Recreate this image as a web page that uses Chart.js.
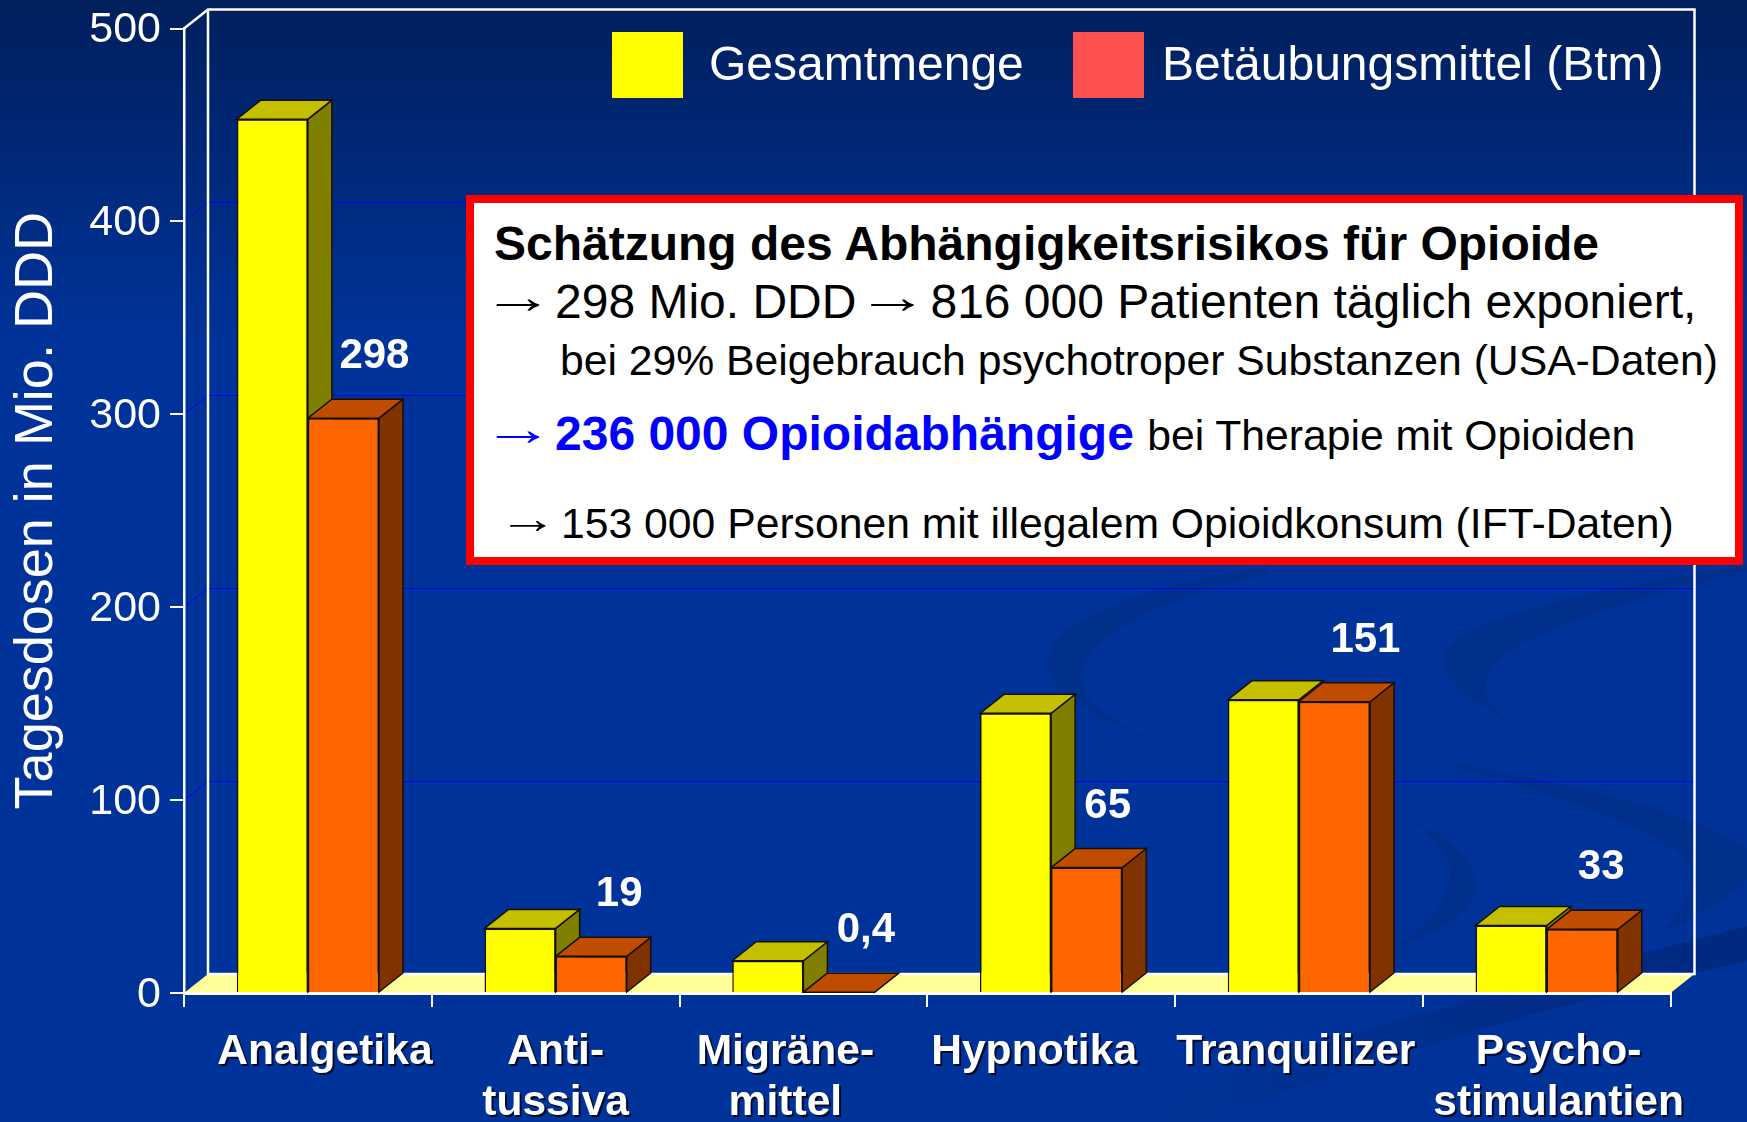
<!DOCTYPE html>
<html>
<head>
<meta charset="utf-8">
<script src="https://cdn.jsdelivr.net/npm/chart.js@4"></script>
<style>
    html, body { margin: 0; padding: 0; background: #003399; overflow: hidden; }
    body { width: 1747px; height: 1122px; position: relative; font-family: "Liberation Sans", Arial, sans-serif; }
    #myChart { position: absolute; left: 0; top: 0; }
    .legend_box { position: absolute; top: 32px; width: 71px; height: 66px; }
    .legend_text { position: absolute; top: 36px; font-size: 48px; line-height: 56px; color: #FFFFFF; white-space: nowrap; }
    #note { position: absolute; left: 466px; top: 195px; width: 1261px; height: 354px; background: #FFFFFF; border: 8px solid #FF0000; }
    #note div { position: absolute; white-space: nowrap; color: #000000; }
    #note b.blue { color: #0000FF; }
    .arrow { display: inline-block; position: relative; top: -5px; font-weight: normal; line-height: 0; text-align: left; transform-origin: left center; transform: translateX(-12px) scaleX(1.5); }
    .arrow.mid { text-align: center; transform-origin: center; transform: scaleX(1.5); }
</style>
</head>
<body>
<canvas id="myChart" width="1747" height="1122"></canvas>
<div id="legend"></div>
<div id="note">
    <div style="left:20px; top:14px; font-size:48px; line-height:54px;"><b>Schätzung des Abhängigkeitsrisikos für Opioide</b></div>
    <div style="left:20px; top:72px; font-size:48px; line-height:54px;"><span class="arrow" style="width:61px;">→</span>298 Mio. DDD<span class="arrow mid" style="width:51px; margin:0 12px 0 11px;">→</span>816 000 Patienten täglich exponiert,</div>
    <div style="left:86px; top:132px; font-size:42.7px; line-height:50px;">bei 29% Beigebrauch psychotroper Substanzen (USA-Daten)</div>
    <div style="left:20px; top:204px; font-size:48px; line-height:54px;"><b class="blue"><span class="arrow" style="width:61px;">→</span>236 000 Opioidabhängige</b> <span style="font-size:42.7px;">bei Therapie mit Opioiden</span></div>
    <div style="left:32px; top:295px; font-size:42.7px; line-height:50px;"><span class="arrow" style="width:55px; transform:translateX(-8px) scaleX(1.4);">→</span>153 000 Personen mit illegalem Opioidkonsum (IFT-Daten)</div>
</div>

<script>
// Data
var categories = ["Analgetika", ["Anti-", "tussiva"], ["Migräne-", "mittel"], "Hypnotika", "Tranquilizer", ["Psycho-", "stimulantien"]];
var gesamtmenge = [453, 33.5, 16.7, 145, 152, 35];
var betaeubungsmittel = [298, 19, 0.4, 65, 151, 33];
var yTicks = [0, 100, 200, 300, 400, 500];

var seriesNames = ["Gesamtmenge", "Betäubungsmittel (Btm)"];
var legendColors = ["#FFFF00", "#FF5050"];
var legendLeft = [612, 1073];
var frontColors = ["#FFFF00", "#FF6600"];
var topColors = ["#C4C000", "#BF4C00"];
var sideColors = ["#808000", "#803300"];

// the hand placed labels of the slide do not sit quite on the category centre
var categoryShift = [17, 0, -18, -17, -3, 12];
var valueLabelShift = [31, 28, 27, 21, 31, 19];

var DEPTH_X = 24;
var DEPTH_Y = 19;
var FONT = '"Liberation Sans", Arial, sans-serif';

// Legend
seriesNames.forEach(function(name, i) {
    var box = document.createElement("div");
    box.className = "legend_box";
    box.style.left = legendLeft[i] + "px";
    box.style.background = legendColors[i];
    var text = document.createElement("div");
    text.className = "legend_text";
    text.style.left = (legendLeft[i] + (i == 0 ? 97 : 89)) + "px";
    text.textContent = name;
    document.getElementById("legend").appendChild(box);
    document.getElementById("legend").appendChild(text);
});

function polygon(ctx, pts, fill, stroke) {
    ctx.beginPath();
    ctx.moveTo(pts[0][0], pts[0][1]);
    for (var i = 1; i < pts.length; i++) ctx.lineTo(pts[i][0], pts[i][1]);
    ctx.closePath();
    ctx.fillStyle = fill;
    ctx.fill();
    if (stroke) {
        ctx.strokeStyle = stroke;
        ctx.lineWidth = 1.5;
        ctx.stroke();
    }
}

// Slide background with the darker swirls
function drawBackground(chart) {
    var ctx = chart.ctx;
    var grad = ctx.createLinearGradient(0, 0, 0, 340);
    grad.addColorStop(0, "#001F5C");
    grad.addColorStop(1, "#003399");
    ctx.fillStyle = grad;
    ctx.fillRect(0, 0, chart.width, chart.height);

    ctx.fillStyle = "#002F8C";
    ctx.beginPath();
    ctx.moveTo(1267, 567);
    ctx.bezierCurveTo(1150, 585, 1045, 620, 1048, 664);
    ctx.bezierCurveTo(1052, 710, 1150, 740, 1224, 764);
    ctx.bezierCurveTo(1160, 745, 1082, 715, 1081, 675);
    ctx.bezierCurveTo(1085, 630, 1190, 590, 1267, 575);
    ctx.closePath();
    ctx.fill();

    ctx.beginPath();
    ctx.moveTo(1395, 812);
    ctx.bezierCurveTo(1450, 835, 1478, 865, 1476, 888);
    ctx.bezierCurveTo(1475, 915, 1430, 935, 1390, 950);
    ctx.bezierCurveTo(1425, 930, 1452, 900, 1450, 870);
    ctx.bezierCurveTo(1448, 850, 1420, 825, 1395, 812);
    ctx.closePath();
    ctx.fill();

    ctx.beginPath();
    ctx.moveTo(1747, 565);
    ctx.bezierCurveTo(1620, 585, 1440, 620, 1443, 660);
    ctx.bezierCurveTo(1446, 685, 1480, 705, 1505, 720);
    ctx.bezierCurveTo(1490, 705, 1484, 695, 1486, 680);
    ctx.bezierCurveTo(1490, 640, 1640, 595, 1747, 572);
    ctx.closePath();
    ctx.fill();

    ctx.beginPath();
    ctx.moveTo(1429, 760);
    ctx.bezierCurveTo(1530, 775, 1700, 810, 1747, 850);
    ctx.lineTo(1747, 880);
    ctx.bezierCurveTo(1720, 905, 1690, 920, 1657, 934);
    ctx.bezierCurveTo(1680, 915, 1695, 890, 1690, 870);
    ctx.bezierCurveTo(1680, 835, 1560, 795, 1429, 760);
    ctx.closePath();
    ctx.fill();

    var band = ctx.createLinearGradient(1100, 0, 1747, 0);
    band.addColorStop(0, "#003399");
    band.addColorStop(1, "#00297F");
    ctx.fillStyle = band;
    ctx.beginPath();
    ctx.moveTo(1747, 926);
    ctx.bezierCurveTo(1600, 965, 1300, 1040, 1095, 1122);
    ctx.lineTo(1205, 1122);
    ctx.bezierCurveTo(1350, 1065, 1550, 1005, 1747, 961);
    ctx.closePath();
    ctx.fill();
}

// Back wall, side wall and floor of the 3D box
var boxPlugin = {
    id: "box",
    beforeDraw: function(chart) {
        drawBackground(chart);
        var ctx = chart.ctx;
        var area = chart.chartArea;
        var y = chart.scales.y;
        ctx.save();

        polygon(ctx, [
            [area.left, area.bottom],
            [area.left + DEPTH_X, area.bottom - DEPTH_Y],
            [area.right + DEPTH_X, area.bottom - DEPTH_Y],
            [area.right, area.bottom]
        ], "#FFFF99");

        ctx.strokeStyle = "#0000FF";
        ctx.lineWidth = 1;
        yTicks.forEach(function(v) {
            if (v == 0 || v == yTicks[yTicks.length - 1]) return;
            var py = Math.round(y.getPixelForValue(v));
            ctx.beginPath();
            ctx.moveTo(area.left, py);
            ctx.lineTo(area.left + DEPTH_X, py - DEPTH_Y + 0.5);
            ctx.lineTo(area.right + DEPTH_X, py - DEPTH_Y + 0.5);
            ctx.stroke();
        });

        ctx.strokeStyle = "#FFFFFF";
        ctx.lineWidth = 2.5;
        ctx.beginPath();
        ctx.moveTo(area.left, area.top);
        ctx.lineTo(area.left + DEPTH_X, area.top - DEPTH_Y);
        ctx.lineTo(area.right + DEPTH_X, area.top - DEPTH_Y);
        ctx.lineTo(area.right + DEPTH_X, area.bottom - DEPTH_Y);
        ctx.lineTo(area.left + DEPTH_X, area.bottom - DEPTH_Y);
        ctx.lineTo(area.left + DEPTH_X, area.top - DEPTH_Y);
        ctx.stroke();
        ctx.restore();
    }
};

// Top and side faces go behind the front faces that Chart.js draws
var barDepthPlugin = {
    id: "barDepth",
    beforeDatasetsDraw: function(chart) {
        var ctx = chart.ctx;
        ctx.save();
        chart.data.datasets.forEach(function(ds, d) {
            chart.getDatasetMeta(d).data.forEach(function(bar) {
                var left = bar.x - bar.width / 2;
                var right = bar.x + bar.width / 2;
                polygon(ctx, [
                    [right, bar.y], [right + DEPTH_X, bar.y - DEPTH_Y],
                    [right + DEPTH_X, bar.base - DEPTH_Y], [right, bar.base]
                ], sideColors[d], "#1A1000");
                polygon(ctx, [
                    [left, bar.y], [left + DEPTH_X, bar.y - DEPTH_Y],
                    [right + DEPTH_X, bar.y - DEPTH_Y], [right, bar.y]
                ], topColors[d], "#1A1000");
            });
        });
        ctx.restore();
    },
    afterDatasetsDraw: function(chart) {
        var ctx = chart.ctx;
        var x = chart.scales.x;
        ctx.save();
        ctx.fillStyle = "#FFFFFF";
        ctx.textAlign = "center";
        ctx.textBaseline = "alphabetic";

        // values above the Btm bars
        ctx.font = "bold 42px " + FONT;
        chart.getDatasetMeta(1).data.forEach(function(bar, i) {
            var text = String(betaeubungsmittel[i]).replace(".", ",");
            ctx.fillText(text, bar.x + valueLabelShift[i], bar.y - 50);
        });

        // category labels with their dark drop shadow
        ctx.font = "bold 42.6px " + FONT;
        ctx.shadowColor = "#000A28";
        ctx.shadowOffsetX = 2;
        ctx.shadowOffsetY = 2;
        categories.forEach(function(label, i) {
            var lines = Array.isArray(label) ? label : [label];
            lines.forEach(function(line, n) {
                ctx.fillText(line, x.getPixelForValue(i) + categoryShift[i], chart.chartArea.bottom + 71 + n * 51);
            });
        });
        ctx.restore();
    }
};

// Render the graph
var ctx = document.getElementById("myChart");
var myChart = new Chart(ctx, {
    type: "bar",
    data: {
        labels: categories,
        datasets: [
            {
                label: seriesNames[0],
                data: gesamtmenge,
                backgroundColor: frontColors[0],
                borderColor: "#1A1000",
                borderWidth: 1.5,
                categoryPercentage: 0.574,
                barPercentage: 1
            },
            {
                label: seriesNames[1],
                data: betaeubungsmittel,
                backgroundColor: frontColors[1],
                borderColor: "#1A1000",
                borderWidth: 1.5,
                categoryPercentage: 0.574,
                barPercentage: 1
            }
        ]
    },
    options: {
        responsive: false,
        animation: false,
        events: [],
        layout: {
            padding: { top: 28.5, right: 76.5, left: 0, bottom: 0 }
        },
        plugins: {
            legend: { display: false },
            tooltip: { enabled: false }
        },
        scales: {
            x: {
                afterFit: function(scale) {
                    scale.height = 129;
                    scale.paddingLeft = 0;
                    scale.paddingRight = 0;
                },
                grid: {
                    drawOnChartArea: false,
                    drawTicks: true,
                    tickLength: 14,
                    color: "#FFFFFF",
                    lineWidth: 2
                },
                border: { display: true, color: "#FFFFFF", width: 3 },
                ticks: { display: false }
            },
            y: {
                min: 0,
                max: 500,
                afterFit: function(scale) {
                    scale.width = 184;
                    scale.paddingTop = 0;
                    scale.paddingBottom = 0;
                },
                afterBuildTicks: function(scale) {
                    scale.ticks = yTicks.map(function(v) { return { value: v }; });
                },
                grid: {
                    drawOnChartArea: false,
                    drawTicks: true,
                    tickLength: 14,
                    color: "#FFFFFF",
                    lineWidth: 2
                },
                border: { display: true, color: "#FFFFFF", width: 2.5 },
                ticks: {
                    color: "#FFFFFF",
                    padding: 9,
                    labelOffset: 2,
                    font: { family: FONT, size: 43 }
                },
                title: {
                    display: true,
                    text: "Tagesdosen in Mio. DDD",
                    color: "#FFFFFF",
                    font: { family: FONT, size: 54 },
                    padding: { top: 5, bottom: 0 }
                }
            }
        }
    },
    plugins: [boxPlugin, barDepthPlugin]
});
</script>
</body>
</html>
